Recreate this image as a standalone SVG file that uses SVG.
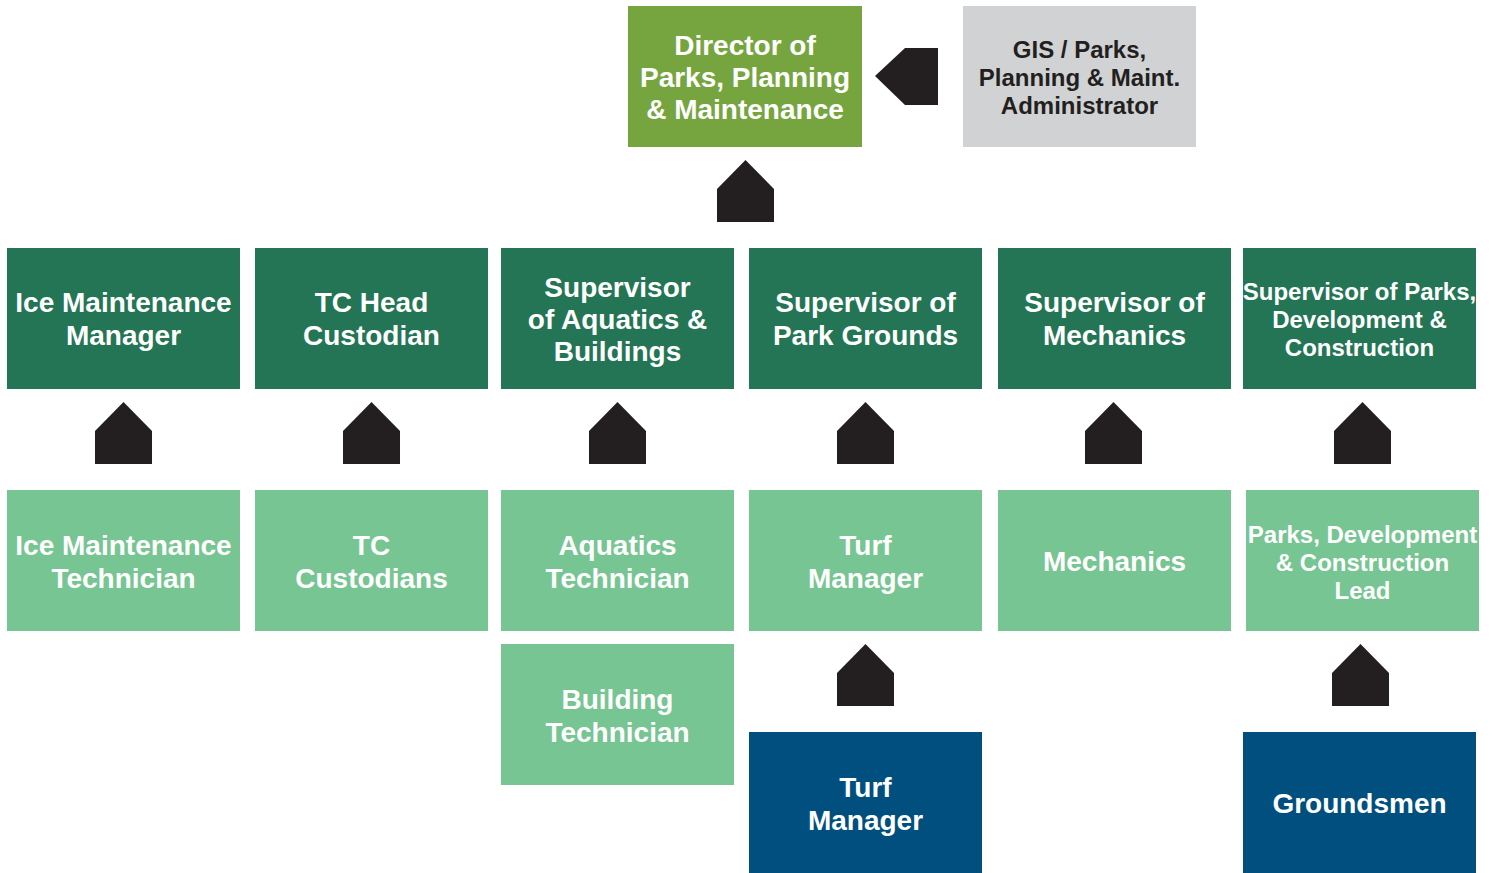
<svg xmlns="http://www.w3.org/2000/svg" width="1497" height="873" viewBox="0 0 1497 873">
<style>
.t{font-family:"Liberation Sans",Arial,sans-serif;font-weight:700;fill:#fff;text-anchor:middle;dominant-baseline:central;font-size:28px}
.s{font-size:24px}
.g{fill:#231f20;font-size:24px}
.dir{fill:#76a540}.gis{fill:#d1d2d4}.sup{fill:#247556}.lt{fill:#77c593}.blu{fill:#004f7f}
.arr{fill:#231f20}
</style>
<defs>
<polygon id="up" points="0,0 28.5,29 28.5,62 -28.5,62 -28.5,29"/>
</defs>
<g id="connectors">
<polygon class="arr" points="875,76 905,48 938,48 938,105 905,105"/>
<use href="#up" class="arr" x="745.5" y="160"/>
<use href="#up" class="arr" x="123.5" y="402"/>
<use href="#up" class="arr" x="371.5" y="402"/>
<use href="#up" class="arr" x="617.5" y="402"/>
<use href="#up" class="arr" x="865.5" y="402"/>
<use href="#up" class="arr" x="1113.5" y="402"/>
<use href="#up" class="arr" x="1362.5" y="402"/>
<use href="#up" class="arr" x="865.5" y="644"/>
<use href="#up" class="arr" x="1360.5" y="644"/>
</g>
<g id="director"><rect class="dir" x="628" y="6" width="234" height="141"/>
<text class="t"><tspan x="745" y="45">Director of</tspan><tspan x="745" y="77">Parks, Planning</tspan><tspan x="745" y="109">&amp; Maintenance</tspan></text></g>
<g id="gis"><rect class="gis" x="963" y="6" width="233" height="141"/>
<text class="t g"><tspan x="1079.5" y="49">GIS / Parks,</tspan><tspan x="1079.5" y="77">Planning &amp; Maint.</tspan><tspan x="1079.5" y="105">Administrator</tspan></text></g>
<g id="ice-manager"><rect class="sup" x="7" y="248" width="233" height="141"/>
<text class="t"><tspan x="123.5" y="302">Ice Maintenance</tspan><tspan x="123.5" y="335">Manager</tspan></text></g>
<g id="tc-head"><rect class="sup" x="255" y="248" width="233" height="141"/>
<text class="t"><tspan x="371.5" y="302">TC Head</tspan><tspan x="371.5" y="335">Custodian</tspan></text></g>
<g id="sup-aquatics"><rect class="sup" x="501" y="248" width="233" height="141"/>
<text class="t"><tspan x="617.5" y="287">Supervisor</tspan><tspan x="617.5" y="319">of Aquatics &amp;</tspan><tspan x="617.5" y="351">Buildings</tspan></text></g>
<g id="sup-grounds"><rect class="sup" x="749" y="248" width="233" height="141"/>
<text class="t"><tspan x="865.5" y="302">Supervisor of</tspan><tspan x="865.5" y="335">Park Grounds</tspan></text></g>
<g id="sup-mechanics"><rect class="sup" x="998" y="248" width="233" height="141"/>
<text class="t"><tspan x="1114.5" y="302">Supervisor of</tspan><tspan x="1114.5" y="335">Mechanics</tspan></text></g>
<g id="sup-parks"><rect class="sup" x="1243" y="248" width="233" height="141"/>
<text class="t s"><tspan x="1359.5" y="291">Supervisor of Parks,</tspan><tspan x="1359.5" y="319">Development &amp;</tspan><tspan x="1359.5" y="347">Construction</tspan></text></g>
<g id="ice-tech"><rect class="lt" x="7" y="490" width="233" height="141"/>
<text class="t"><tspan x="123.5" y="545">Ice Maintenance</tspan><tspan x="123.5" y="578">Technician</tspan></text></g>
<g id="tc-custodians"><rect class="lt" x="255" y="490" width="233" height="141"/>
<text class="t"><tspan x="371.5" y="545">TC</tspan><tspan x="371.5" y="578">Custodians</tspan></text></g>
<g id="aquatics-tech"><rect class="lt" x="501" y="490" width="233" height="141"/>
<text class="t"><tspan x="617.5" y="545">Aquatics</tspan><tspan x="617.5" y="578">Technician</tspan></text></g>
<g id="turf-manager-1"><rect class="lt" x="749" y="490" width="233" height="141"/>
<text class="t"><tspan x="865.5" y="545">Turf</tspan><tspan x="865.5" y="578">Manager</tspan></text></g>
<g id="mechanics"><rect class="lt" x="998" y="490" width="233" height="141"/>
<text class="t"><tspan x="1114.5" y="561">Mechanics</tspan></text></g>
<g id="pdc-lead"><rect class="lt" x="1246" y="490" width="233" height="141"/>
<text class="t s"><tspan x="1362.5" y="534">Parks, Development</tspan><tspan x="1362.5" y="562">&amp; Construction</tspan><tspan x="1362.5" y="590">Lead</tspan></text></g>
<g id="building-tech"><rect class="lt" x="501" y="644" width="233" height="141"/>
<text class="t"><tspan x="617.5" y="699">Building</tspan><tspan x="617.5" y="732">Technician</tspan></text></g>
<g id="turf-manager-2"><rect class="blu" x="749" y="732" width="233" height="141"/>
<text class="t"><tspan x="865.5" y="787">Turf</tspan><tspan x="865.5" y="820">Manager</tspan></text></g>
<g id="groundsmen"><rect class="blu" x="1243" y="732" width="233" height="141"/>
<text class="t"><tspan x="1359.5" y="803">Groundsmen</tspan></text></g>
</svg>
